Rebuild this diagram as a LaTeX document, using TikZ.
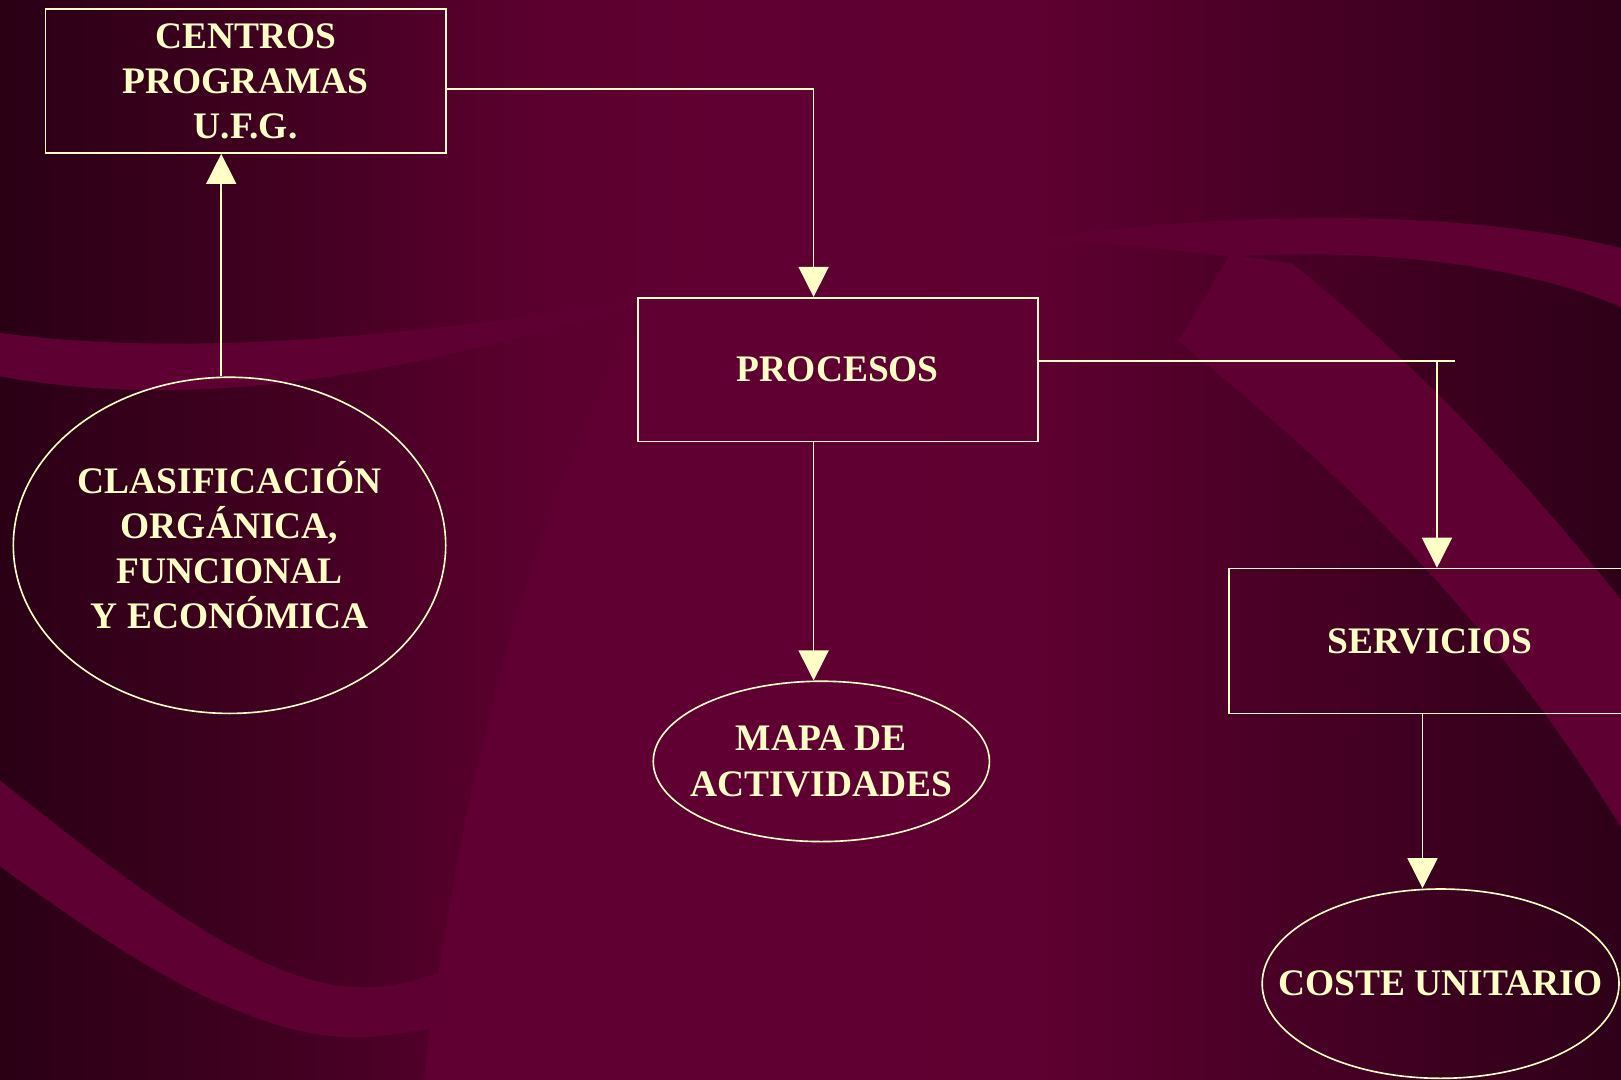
\documentclass[tikz,border=0pt]{standalone}
\usepackage{fontspec}
\setmainfont{Liberation Serif}
\usetikzlibrary{arrows.meta,shapes.geometric,calc}
\definecolor{cream}{HTML}{FFFFC6}
\definecolor{bgA}{HTML}{2A0015}
\definecolor{bgB}{HTML}{440022}
\definecolor{bgC}{HTML}{5A002E}
\definecolor{bgD}{HTML}{600032}
\definecolor{bgE}{HTML}{5E0031}
\definecolor{bgF}{HTML}{480025}
\definecolor{bgG}{HTML}{2E0018}
\definecolor{bandlight}{HTML}{5E0031}
\pgfdeclarehorizontalshading{bgshade}{100bp}{color(0bp)=(bgA); color(25bp)=(bgA); color(34.6bp)=(bgB); color(41bp)=(bgC); color(47.3bp)=(bgD); color(56.9bp)=(bgE); color(64.9bp)=(bgF); color(75bp)=(bgG); color(100bp)=(bgG)}
\begin{document}
\begin{tikzpicture}[x=0.01cm,y=-0.01cm,
  lbl/.style={text=cream,font=\fontsize{10.3}{12.4}\selectfont\bfseries,align=center},
  boxnode/.style={lbl,draw=cream,line width=0.45pt,inner sep=0pt},
  ellnode/.style={lbl,draw=cream,line width=0.45pt,ellipse,inner xsep=-1cm,inner ysep=0pt},
  conn/.style={draw=cream,line width=0.45pt},
  arr/.style={conn,-{Triangle[width=0.29cm,length=0.29cm]}}]
\useasboundingbox (0,0) rectangle (1568,1044);
\begin{scope}
\clip (0,0) rectangle (1568,1044);
% background
\shade[shading=bgshade] (-1,-1) rectangle (1569,1045);
% bright central region (left boundary of the large sweep)
\fill[bgD] (410,1045) .. controls (440,800) and (500,500) .. (640,274)
  -- (900,274) -- (900,1045) -- cycle;
% light band from left, tapering into the middle
\fill[bandlight] (0,322) .. controls (150,342) and (350,335) .. (650,285)
  .. controls (400,360) and (200,400) .. (0,364) -- cycle;
% top-right arc band
\fill[bandlight] (1000,232) .. controls (1250,195) and (1460,212) .. (1568,240)
  -- (1568,297) .. controls (1470,255) and (1330,240) .. (1190,248)
  .. controls (1120,240) and (1060,235) .. (1000,232) -- cycle;
% diagonal light band right
\fill[bandlight] (1140,330) .. controls (1250,420) and (1420,560) .. (1568,800)
  -- (1568,580) .. controls (1480,470) and (1380,360) .. (1250,255)
  -- (1190,246) -- cycle;
% lower left light band
\fill[bandlight] (0,755) .. controls (120,850) and (250,955) .. (350,955)
  .. controls (380,955) and (400,950) .. (440,935) -- (440,990)
  .. controls (390,1000) and (360,1005) .. (330,1003)
  .. controls (220,995) and (100,910) .. (0,838) -- cycle;
\end{scope}

% nodes
\node[boxnode,minimum width=3.87cm,minimum height=1.39cm] (centros) at (237.5,78.5) {CENTROS\\PROGRAMAS\\U.F.G.};
\node[boxnode,minimum width=3.87cm,minimum height=1.39cm] (procesos) at (810.5,357.5) {PROCESOS};
\node[boxnode,minimum width=3.88cm,minimum height=1.40cm] (servicios) at (1383,620) {SERVICIOS};
\node[ellnode,minimum width=4.18cm,minimum height=3.25cm] (clas) at (222,527.5) {CLASIFICACIÓN\\ORGÁNICA,\\FUNCIONAL\\Y ECONÓMICA};
\node[ellnode,minimum width=3.25cm,minimum height=1.55cm] (mapa) at (794.5,736.5) {MAPA DE\\ACTIVIDADES};
\node[ellnode,minimum width=3.45cm,minimum height=1.83cm] (coste) at (1393.5,951.5) {COSTE UNITARIO};

% connectors
\coordinate (c1) at (787,86);
\coordinate (a1) at (214,365);
\coordinate (p1) at (1407,349);
\coordinate (p2) at (1390,349);
\coordinate (s1) at (1376,690);
\draw[arr] (centros.east |- c1) -- (c1) -- (c1 |- procesos.north);
\draw[arr] (clas.north -| a1) -- (a1 |- centros.south);
\draw[arr] (procesos.south -| c1) -- (c1 |- mapa.north);
\draw[conn] (procesos.east |- p1) -- (p1);
\draw[arr] (p2) -- (p2 |- servicios.north);
\draw[arr] (servicios.south -| s1) -- (s1 |- coste.north);
\end{tikzpicture}
\end{document}
